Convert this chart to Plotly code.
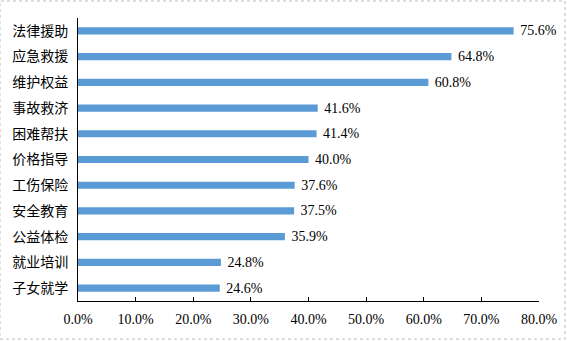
import plotly.graph_objects as go

categories = ["法律援助", "应急救援", "维护权益", "事故救济", "困难帮扶", "价格指导",
              "工伤保险", "安全教育", "公益体检", "就业培训", "子女就学"]
values = [75.6, 64.8, 60.8, 41.6, 41.4, 40.0, 37.6, 37.5, 35.9, 24.8, 24.6]
x_ticks = [0, 10, 20, 30, 40, 50, 60, 70, 80]
x_tick_labels = [f"{v:.1f}%" for v in x_ticks]

serif = "Liberation Serif, Times New Roman, serif"
cjk = "Noto Sans CJK SC, sans-serif"

fig = go.Figure(go.Bar(
    y=categories,
    x=values,
    orientation="h",
    marker=dict(color="#5B9BD5", line=dict(width=0)),
    text=[f"\u00a0{v:.1f}%" for v in values],
    textposition="outside",
    constraintext="none",
    textfont=dict(family=serif, size=14, color="#000000"),
    cliponaxis=False,
))

fig.update_layout(
    width=567, height=341,
    margin=dict(l=78, r=28, t=18, b=40),
    paper_bgcolor="white",
    plot_bgcolor="white",
    bargap=0.72,
    showlegend=False,
    xaxis=dict(
        range=[0, 80],
        tickvals=x_ticks,
        ticktext=x_tick_labels,
        tickfont=dict(family=serif, size=14, color="#000000"),
        showgrid=False,
        zeroline=False,
        showline=True,
        linecolor="#000000",
        linewidth=1,
        ticks="inside",
        ticklen=4,
        tickcolor="#000000",
        ticklabelstandoff=5,
        automargin=False,
        fixedrange=True,
    ),
    yaxis=dict(
        categoryorder="array",
        categoryarray=categories[::-1],
        tickfont=dict(family=cjk, size=14, color="#000000"),
        showgrid=False,
        zeroline=False,
        showline=True,
        linecolor="#000000",
        linewidth=1,
        ticks="",
        ticklabelstandoff=6,
        automargin=False,
        fixedrange=True,
    ),
    shapes=[dict(
        type="rect", xref="paper", yref="paper",
        x0=-78 / 461, x1=1 + 26 / 461, y0=-38 / 283, y1=1 + 17 / 283,
        line=dict(color="#BBBBBB", width=1, dash="dot"),
    )],
)

fig.write_html("out.html", config={"displayModeBar": False})
